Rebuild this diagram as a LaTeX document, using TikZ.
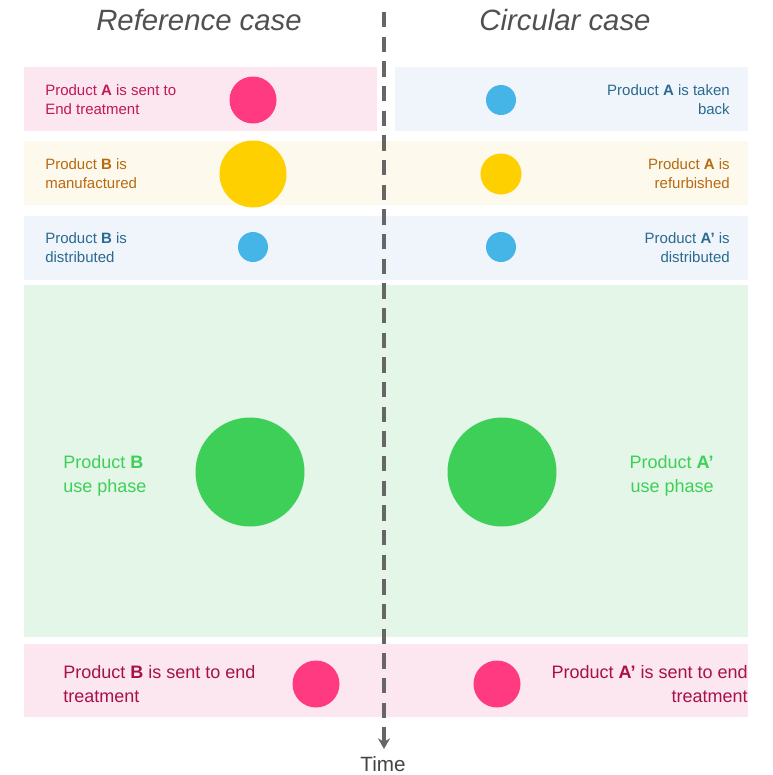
\documentclass[tikz,border=0pt]{standalone}
\usepackage{fontspec}
\setmainfont{Liberation Sans}
\usetikzlibrary{arrows.meta}
\definecolor{bgpink}{HTML}{FCE6EF}
\definecolor{bgyellow}{HTML}{FDF9EC}
\definecolor{bgblue}{HTML}{EFF5FB}
\definecolor{bggreen}{HTML}{E4F6E8}
\definecolor{cpink}{HTML}{FF3A80}
\definecolor{cyellow}{HTML}{FFD000}
\definecolor{cblue}{HTML}{45B4E6}
\definecolor{cgreen}{HTML}{3ECF58}
\definecolor{tpink}{HTML}{C01858}
\definecolor{tpinkd}{HTML}{A8104A}
\definecolor{torange}{HTML}{B86A10}
\definecolor{tblue}{HTML}{2A6A90}
\definecolor{tgreen}{HTML}{3ECF58}
\definecolor{tgray}{HTML}{505050}
\definecolor{lgray}{HTML}{666666}
\begin{document}
\begin{tikzpicture}[x=0.75pt,y=-0.75pt,
  dot/.style={circle,draw=none,inner sep=0pt},
  small/.style={inner sep=0pt,font=\fontsize{11.25}{14.25}\selectfont},
  big/.style={inner sep=0pt,font=\fontsize{13.5}{17.5}\selectfont},
  lefttxt/.style={anchor=west,align=left},
  righttxt/.style={anchor=east,align=right},
  title/.style={inner sep=0pt,text=tgray,font=\fontsize{22}{26}\selectfont\itshape},
  timeline/.style={draw=lgray,line width=2.5pt,dash pattern=on 11.5pt off 7pt,-{Stealth[length=8pt,width=9pt]}}
]
\useasboundingbox (0,0) rectangle (773,775);
% bands
\fill[bgpink] (24,67) rectangle (377,131);
\fill[bgblue] (395,67) rectangle (748,131);
\fill[bgyellow] (24,141) rectangle (748,205);
\fill[bgblue] (24,216) rectangle (748,280);
\fill[bggreen] (24,285) rectangle (748,637);
\fill[bgpink] (24,644) rectangle (748,717);
% titles
\node[title] (tref) at (199,20) {Reference case};
\node[title] (tcirc) at (565,20) {Circular case};
% row 1
\node[small,lefttxt,text=tpink] (l1) at (45,100) {Product \textbf{A} is sent to\\End treatment};
\node[dot,fill=cpink,minimum size=35.25pt] (lc1) at (253,100) {};
\node[dot,fill=cblue,minimum size=22.5pt] (rc1) at (501,100) {};
\node[small,righttxt,text=tblue] (r1) at (730,100) {Product \textbf{A} is taken\\back};
% row 2
\node[small,lefttxt,text=torange] (l2) at (45,174) {Product \textbf{B} is\\manufactured};
\node[dot,fill=cyellow,minimum size=50.25pt] (lc2) at (253,174) {};
\node[dot,fill=cyellow,minimum size=30.75pt] (rc2) at (501,174) {};
\node[small,righttxt,text=torange] (r2) at (730,174) {Product \textbf{A} is\\refurbished};
% row 3
\node[small,lefttxt,text=tblue] (l3) at (45,248) {Product \textbf{B} is\\distributed};
\node[dot,fill=cblue,minimum size=22.5pt] (lc3) at (253,247) {};
\node[dot,fill=cblue,minimum size=22.5pt] (rc3) at (501,247) {};
\node[small,righttxt,text=tblue] (r3) at (730,248) {Product \textbf{A’} is\\distributed};
% row 4
\node[big,lefttxt,text=tgreen,font=\fontsize{13.5}{18}\selectfont] (l4) at (63,476) {Product \textbf{B}\\use phase};
\node[dot,fill=cgreen,minimum size=81.75pt] (lc4) at (250,472) {};
\node[dot,fill=cgreen,minimum size=81.75pt] (rc4) at (502,472) {};
\node[big,righttxt,text=tgreen,font=\fontsize{13.5}{18}\selectfont] (r4) at (714,476) {Product \textbf{A’}\\use phase};
% row 5
\node[big,lefttxt,text=tpinkd] (l5) at (63,684) {Product \textbf{B} is sent to end\\treatment};
\node[dot,fill=cpink,minimum size=35.25pt] (lc5) at (316,684) {};
\node[dot,fill=cpink,minimum size=35.25pt] (rc5) at (497,684) {};
\node[big,righttxt,text=tpinkd] (r5) at (748,684) {Product \textbf{A’} is sent to end\\treatment};
% timeline
\coordinate (ttop) at (384,12);
\node[inner sep=0pt,text=tgray!85!black,font=\fontsize{15.5}{18}\selectfont] (time) at (383,764) {Time};
\coordinate (tend) at (384,749);
\draw[timeline] (ttop) -- (tend);
\end{tikzpicture}
\end{document}
